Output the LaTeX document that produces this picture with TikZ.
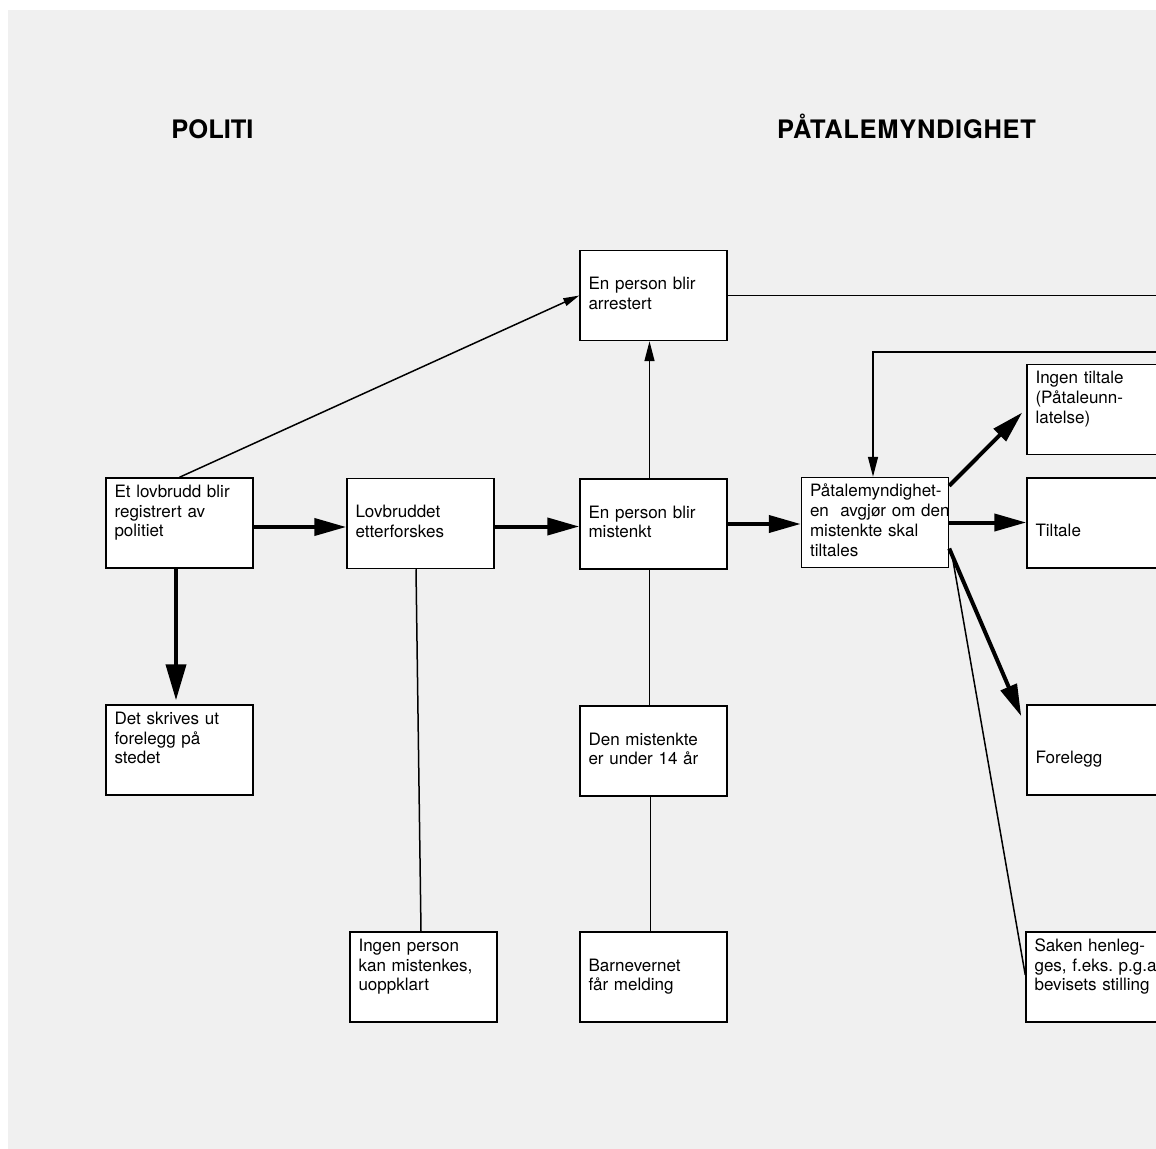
\documentclass[tikz,border=0pt]{standalone}
\usepackage{fontspec}
\setmainfont{TeX Gyre Heros}
\usetikzlibrary{arrows.meta,calc}
\newcommand{\fourlines}[4]{\strut\mbox{#1}\\\strut\mbox{#2}\\\strut\mbox{#3}\\\strut\mbox{#4}}
\frenchspacing
\begin{document}
\frenchspacing
\begin{tikzpicture}[x=0.02cm,y=-0.02cm,
  box/.style={draw=black, fill=white, line width=0.03cm, minimum width=2.94cm,
    minimum height=1.8cm, inner xsep=0.17cm, inner ysep=0pt, text width=2.6cm,
    align=left, font=\fontsize{9.7}{11.34}\selectfont\frenchspacing, anchor=center},
  thinline/.style={line width=0.03cm},
  thinarrow/.style={line width=0.03cm, -{Triangle[length=0.4cm,width=0.2cm]}},
  smallarrow/.style={line width=0.03cm, -{Triangle[length=0.32cm,width=0.16cm]}},
  thickarrow/.style={line width=0.08cm, -{Triangle[length=0.64cm,width=0.34cm]}},
  downarrow/.style={line width=0.08cm, -{Triangle[length=0.72cm,width=0.4cm]}},
  heading/.style={font=\fontsize{14.5}{17}\selectfont\bfseries, anchor=base, inner sep=0pt}]
\useasboundingbox (0,0) rectangle (1156,1149);
\fill[white] (0,0) rectangle (1156,1149);
\fill[gray!12] (8,10) rectangle (1156,1149);

% headings
\node[heading] (hpol) at (212.5,138) {POLITI};
\node[heading] (hpat) at (906.5,138) {\addfontfeature{LetterSpace=2.8}PÅTALEMYNDIGHET};

% boxes
\node[box] (lov) at (179.5,523) {\fourlines{Et lovbrudd blir}{registrert av}{politiet}{}};
\node[box] (etter) at (420.5,523.5) {\fourlines{}{Lovbruddet}{etterforskes}{}};
\node[box] (mist) at (653.5,524) {\fourlines{}{En person blir}{mistenkt}{}};
\node[box] (arr) at (653.5,295.5) {\fourlines{}{En person blir}{arrestert}{}};
\node[box] (pat) at (875,522.5) {\fourlines{Påtalemyndighet-}{en\ \ avgjør om den}{mistenkte skal}{tiltales}};
\node[box] (ingen) at (1100.5,409.5) {\fourlines{Ingen tiltale}{(Påtaleunn-}{latelse)}{}};
\node[box] (tilt) at (1100.5,523) {\fourlines{}{}{Tiltale}{}};
\node[box] (fore) at (1100.5,750) {\fourlines{}{}{Forelegg}{}};
\node[box] (saken) at (1099.5,977) {\fourlines{Saken henleg-}{ges, f.eks. p.g.a}{bevisets stilling}{}};
\node[box] (skriv) at (179.5,750) {\fourlines{Det skrives ut}{forelegg på}{stedet}{}};
\node[box] (under) at (653.5,751) {\fourlines{}{Den mistenkte}{er under 14 år}{}};
\node[box] (ingenp) at (423.5,977) {\fourlines{Ingen person}{kan mistenkes,}{uoppklart}{}};
\node[box] (barn) at (653.5,977) {\fourlines{}{Barnevernet}{får melding}{}};

% off-page ends
\coordinate (edgeA) at (1160,294);
\coordinate (edgeB) at (1160,352);

% thin connectors
\draw[thinline] (arr.east) -- (arr.east -| edgeA);
\draw[thinarrow] (edgeB) -| ([xshift=-0.04cm]pat.north);
\draw[smallarrow] (lov.north) -- (arr.west);
\draw[thinarrow] ([xshift=-0.08cm]mist.north) -- ([xshift=-0.08cm]mist.north |- arr.south);
\draw[thinline] ([xshift=-0.08cm]mist.south) -- ([xshift=-0.08cm]mist.south |- under.north);
\draw[thinline] ([xshift=-0.06cm]under.south) -- ([xshift=-0.06cm]under.south |- barn.north);
\draw[thinline] ([xshift=-0.09cm]etter.south) -- ([xshift=-0.05cm]ingenp.north);
\draw[thinline] ($(pat.east)+(2,28)$) -- ($(saken.west)+(0,-2)$);

% thick arrows
\draw[thickarrow] ([yshift=-0.08cm]lov.east) -- ([yshift=-0.08cm]lov.east -| etter.west);
\draw[thickarrow] ([yshift=-0.06cm]etter.east) -- ([yshift=-0.06cm]etter.east -| mist.west);
\draw[thickarrow] (mist.east) -- (mist.east -| pat.west);
\draw[thickarrow] (pat.east) -- (pat.east -| tilt.west);
\draw[downarrow] ([xshift=-0.07cm]lov.south) -- ([xshift=-0.07cm,yshift=0.08cm]lov.south |- skriv.north);
\draw[thickarrow] ([yshift=-0.18cm]pat.north east) -- ($(ingen.west)+(-4,3)$);
\draw[thickarrow] ($(pat.east)+(0,26)$) -- ($(fore.north west)+(-5,12)$);
\end{tikzpicture}
\end{document}
